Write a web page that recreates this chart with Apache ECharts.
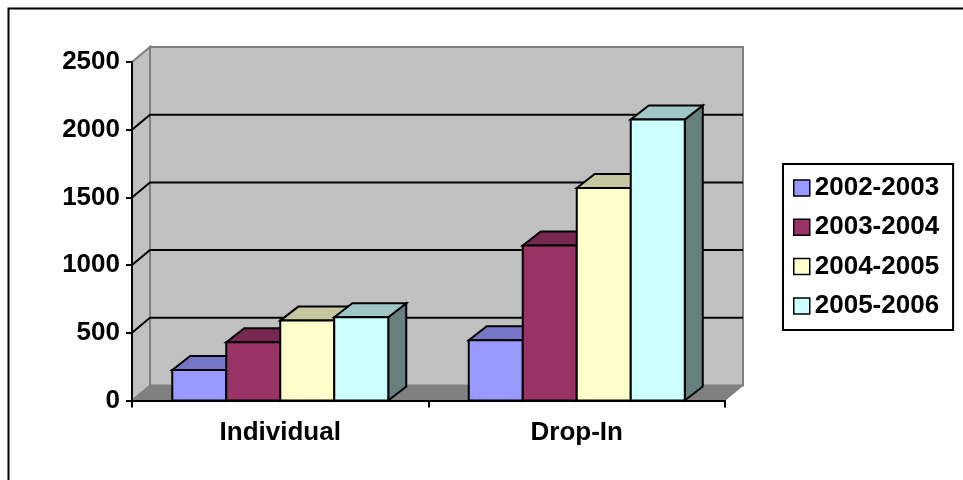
<!DOCTYPE html>
<html>
<head>
<meta charset="utf-8">
<script src="https://cdn.jsdelivr.net/npm/echarts@6/dist/echarts.min.js"></script>
<style>
  html, body { margin: 0; padding: 0; background: #ffffff; }
  #chart { width: 963px; height: 480px; }
</style>
</head>
<body>
<div id="chart"></div>
<script>
// Visits per service type, one array per season
const categories = ['Individual', 'Drop-In'];
const seasons = ['2002-2003', '2003-2004', '2004-2005', '2005-2006'];
const visits2002 = [225, 445];
const visits2003 = [430, 1145];
const visits2004 = [590, 1570];
const visits2005 = [615, 2075];
const yTicks = [0, 500, 1000, 1500, 2000, 2500];

const seriesValues = [visits2002, visits2003, visits2004, visits2005];
const frontColors = ['#9999FF', '#993366', '#FFFFCC', '#CCFFFF'];

// Pseudo-3D geometry (pixels)
const WALL_DX = 18, WALL_DY = -15;
const BAR_DX = 18, BAR_DY = -14;
const BAR_FRACTION = 54 / 296.5;   // share of a category band taken by one column
const FONT = "'Liberation Sans', Arial, Helvetica, sans-serif";
const FONT_SIZE = 26;

function shade(hex, f) {
  const n = parseInt(hex.slice(1), 16);
  const r = Math.round(((n >> 16) & 255) * f);
  const g = Math.round(((n >> 8) & 255) * f);
  const b = Math.round((n & 255) * f);
  return 'rgb(' + r + ',' + g + ',' + b + ')';
}

// Back wall, side wall, floor and gridlines, placed from the value axis
function renderWalls(params, api) {
  const cs = params.coordSys;
  const x0 = cs.x, x1 = cs.x + cs.width;
  const yBase = api.coord([0, yTicks[0]])[1];
  const yTop = api.coord([0, yTicks[yTicks.length - 1]])[1];
  const dx = WALL_DX, dy = WALL_DY;
  const children = [];
  children.push({
    type: 'rect',
    shape: { x: x0 + dx, y: yTop + dy, width: x1 - x0, height: yBase - yTop },
    style: { fill: '#c0c0c0', stroke: '#808080', lineWidth: 2 }
  });
  children.push({
    type: 'polygon',
    shape: { points: [[x0, yTop], [x0 + dx, yTop + dy], [x0 + dx, yBase + dy], [x0, yBase]] },
    style: { fill: '#c0c0c0', stroke: '#808080', lineWidth: 2 }
  });
  children.push({
    type: 'polygon',
    shape: { points: [[x0, yBase], [x1, yBase], [x1 + dx, yBase + dy], [x0 + dx, yBase + dy]] },
    style: { fill: '#808080', stroke: '#808080', lineWidth: 1 }
  });
  yTicks.slice(1, -1).forEach(function (v) {
    const y = api.coord([0, v])[1];
    children.push({
      type: 'polyline',
      shape: { points: [[x0, y], [x0 + dx, y + dy], [x1 + dx, y + dy]] },
      style: { fill: null, stroke: '#000000', lineWidth: 2 }
    });
  });
  return { type: 'group', children: children };
}

// One 3D column: front face, top face and right side face
function makeBarRenderer(k) {
  return function (params, api) {
    const ci = api.value(0), v = api.value(1);
    const base = api.coord([ci, 0]);
    const top = api.coord([ci, v]);
    const band = api.size([1, 0])[0];
    const w = band * BAR_FRACTION;
    const xl = base[0] - 2 * w + k * w, xr = xl + w;
    const yt = top[1], yb = base[1];
    const c = frontColors[k];
    const edge = { stroke: '#000000', lineWidth: 2, lineJoin: 'miter' };
    return {
      type: 'group',
      children: [
        {
          type: 'polygon',
          shape: { points: [[xr, yt], [xr + BAR_DX, yt + BAR_DY], [xr + BAR_DX, yb + BAR_DY], [xr, yb]] },
          style: Object.assign({ fill: shade(c, 0.5) }, edge)
        },
        {
          type: 'polygon',
          shape: { points: [[xl, yt], [xl + BAR_DX, yt + BAR_DY], [xr + BAR_DX, yt + BAR_DY], [xr, yt]] },
          style: Object.assign({ fill: shade(c, 0.78) }, edge)
        },
        {
          type: 'rect',
          shape: { x: xl, y: yt, width: w, height: yb - yt },
          style: Object.assign({ fill: c }, edge)
        }
      ]
    };
  };
}

const series = [{
  type: 'custom',
  name: 'walls',
  z: 1,
  silent: true,
  clip: false,
  renderItem: renderWalls,
  data: [[0, 0]]
}].concat(seasons.map(function (name, k) {
  return {
    type: 'custom',
    name: name,
    z: 3 + k,
    clip: false,
    itemStyle: { color: frontColors[k] },
    renderItem: makeBarRenderer(k),
    data: categories.map(function (c, i) { return [i, seriesValues[k][i]]; })
  };
}));

const chart = echarts.init(document.getElementById('chart'), null, { renderer: 'canvas' });
chart.setOption({
  animation: false,
  backgroundColor: '#ffffff',
  grid: { left: 132, top: 62, width: 593, height: 338.5 },
  xAxis: {
    type: 'category',
    data: categories,
    boundaryGap: true,
    z: 10,
    axisLine: { lineStyle: { color: '#000000', width: 2 } },
    axisTick: { show: true, length: 7, lineStyle: { color: '#000000', width: 2 } },
    axisLabel: { color: '#000000', fontFamily: FONT, fontWeight: 'bold', fontSize: FONT_SIZE, margin: 19 },
    splitLine: { show: false }
  },
  yAxis: {
    type: 'value',
    min: 0,
    max: 2500,
    interval: 500,
    z: 10,
    axisLine: { show: true, lineStyle: { color: '#000000', width: 2 } },
    axisTick: { show: true, length: 6, lineStyle: { color: '#000000', width: 2 } },
    axisLabel: {
      color: '#000000', fontFamily: FONT, fontWeight: 'bold', fontSize: FONT_SIZE, margin: 12,
      formatter: function (v) { return String(v); }
    },
    splitLine: { show: false }
  },
  legend: {
    orient: 'vertical',
    left: 783,
    top: 164,
    padding: [11, 14, 11, 10],
    itemGap: 13.3,
    itemWidth: 16,
    itemHeight: 16,
    itemTextGap: 8,
    icon: 'rect',
    backgroundColor: '#ffffff',
    borderColor: '#000000',
    borderWidth: 2,
    textStyle: { color: '#000000', fontFamily: FONT, fontWeight: 'bold', fontSize: FONT_SIZE },
    data: seasons.map(function (n, k) {
      return { name: n, itemStyle: { color: frontColors[k], borderColor: '#000000', borderWidth: 1.5 } };
    })
  },
  graphic: [{
    type: 'rect',
    left: 6,
    top: 6,
    shape: { width: 1000, height: 1000 },
    style: { fill: null, stroke: '#000000', lineWidth: 2 },
    z: 100
  }],
  series: series
});
</script>
</body>
</html>
